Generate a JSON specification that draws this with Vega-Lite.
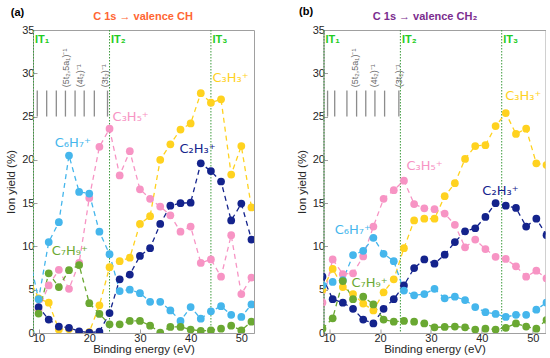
{
  "$schema": "https://vega.github.io/schema/vega-lite/v6.json",
  "background": "white",
  "padding": {"left": 5, "top": 5, "right": 0, "bottom": 0},
  "bounds": "flush",
  "spacing": 69.5,
  "config": {
    "view": {"stroke": "#a0a0a0", "strokeWidth": 1},
    "axis": {"grid": false, "domainColor": "#a0a0a0", "tickColor": "#a0a0a0", "tickSize": -4, "labelFont": "Liberation Sans", "labelFontSize": 11, "labelColor": "#262626", "titleFont": "Liberation Sans", "titleFontSize": 11.5, "titleFontWeight": "normal", "titleColor": "#262626"},
    "axisX": {"labelPadding": 3, "titlePadding": 0},
    "axisY": {"labelPadding": 3, "titlePadding": 5},
    "text": {"font": "DejaVu Sans"}
  },
  "datasets": {
    "sa": [
      {"ion":"C3H3","x":8,"y":6.5},{"ion":"C3H3","x":10,"y":4.0},{"ion":"C3H3","x":12,"y":3.5},{"ion":"C3H3","x":14,"y":0.4},{"ion":"C3H3","x":16,"y":0.45},{"ion":"C3H3","x":18,"y":0.05},{"ion":"C3H3","x":20,"y":0.1},{"ion":"C3H3","x":22,"y":3.2},{"ion":"C3H3","x":24,"y":7.6},{"ion":"C3H3","x":26,"y":8.3},{"ion":"C3H3","x":28,"y":8.7},{"ion":"C3H3","x":30,"y":12.6},{"ion":"C3H3","x":32,"y":13.5},{"ion":"C3H3","x":34,"y":20.0},{"ion":"C3H3","x":36,"y":21.8},{"ion":"C3H3","x":38,"y":23.5},{"ion":"C3H3","x":40,"y":24.2},{"ion":"C3H3","x":42,"y":27.7},{"ion":"C3H3","x":44,"y":26.6},{"ion":"C3H3","x":46,"y":27.0},{"ion":"C3H3","x":48,"y":18.3},{"ion":"C3H3","x":50,"y":21.6},{"ion":"C3H3","x":52,"y":14.5},
      {"ion":"C3H5","x":8,"y":3.0},{"ion":"C3H5","x":10,"y":2.7},{"ion":"C3H5","x":12,"y":5.5},{"ion":"C3H5","x":14,"y":7.3},{"ion":"C3H5","x":16,"y":5.1},{"ion":"C3H5","x":18,"y":8.1},{"ion":"C3H5","x":20,"y":15.6},{"ion":"C3H5","x":22,"y":21.5},{"ion":"C3H5","x":24,"y":23.6},{"ion":"C3H5","x":26,"y":18.2},{"ion":"C3H5","x":28,"y":21.0},{"ion":"C3H5","x":30,"y":16.6},{"ion":"C3H5","x":32,"y":15.5},{"ion":"C3H5","x":34,"y":14.6},{"ion":"C3H5","x":36,"y":13.6},{"ion":"C3H5","x":38,"y":11.7},{"ion":"C3H5","x":40,"y":12.3},{"ion":"C3H5","x":42,"y":8.1},{"ion":"C3H5","x":44,"y":8.5},{"ion":"C3H5","x":46,"y":6.5},{"ion":"C3H5","x":48,"y":11.3},{"ion":"C3H5","x":50,"y":4.5},{"ion":"C3H5","x":52,"y":6.4},
      {"ion":"C2H3","x":8,"y":3.5},{"ion":"C2H3","x":10,"y":3.0},{"ion":"C2H3","x":12,"y":1.55},{"ion":"C2H3","x":14,"y":0.75},{"ion":"C2H3","x":16,"y":0.6},{"ion":"C2H3","x":18,"y":0.2},{"ion":"C2H3","x":20,"y":0.05},{"ion":"C2H3","x":22,"y":0.15},{"ion":"C2H3","x":24,"y":2.3},{"ion":"C2H3","x":26,"y":6.2},{"ion":"C2H3","x":28,"y":6.75},{"ion":"C2H3","x":30,"y":8.9},{"ion":"C2H3","x":32,"y":9.8},{"ion":"C2H3","x":34,"y":12.6},{"ion":"C2H3","x":36,"y":14.7},{"ion":"C2H3","x":38,"y":15.0},{"ion":"C2H3","x":40,"y":15.05},{"ion":"C2H3","x":42,"y":19.6},{"ion":"C2H3","x":44,"y":18.7},{"ion":"C2H3","x":46,"y":17.5},{"ion":"C2H3","x":48,"y":13.0},{"ion":"C2H3","x":50,"y":14.95},{"ion":"C2H3","x":52,"y":10.8},
      {"ion":"C6H7","x":8,"y":9.2},{"ion":"C6H7","x":10,"y":3.9},{"ion":"C6H7","x":12,"y":10.5},{"ion":"C6H7","x":14,"y":12.8},{"ion":"C6H7","x":16,"y":20.5},{"ion":"C6H7","x":18,"y":16.3},{"ion":"C6H7","x":20,"y":16.1},{"ion":"C6H7","x":22,"y":11.7},{"ion":"C6H7","x":24,"y":9.1},{"ion":"C6H7","x":26,"y":4.85},{"ion":"C6H7","x":28,"y":5.0},{"ion":"C6H7","x":30,"y":4.6},{"ion":"C6H7","x":32,"y":3.6},{"ion":"C6H7","x":34,"y":3.6},{"ion":"C6H7","x":36,"y":2.6},{"ion":"C6H7","x":38,"y":1.4},{"ion":"C6H7","x":40,"y":3.0},{"ion":"C6H7","x":42,"y":1.65},{"ion":"C6H7","x":44,"y":2.5},{"ion":"C6H7","x":46,"y":3.1},{"ion":"C6H7","x":48,"y":2.1},{"ion":"C6H7","x":50,"y":1.85},{"ion":"C6H7","x":52,"y":3.3},
      {"ion":"C7H9","x":8,"y":3.4},{"ion":"C7H9","x":10,"y":2.25},{"ion":"C7H9","x":12,"y":6.9},{"ion":"C7H9","x":14,"y":5.3},{"ion":"C7H9","x":16,"y":7.25},{"ion":"C7H9","x":18,"y":7.85},{"ion":"C7H9","x":20,"y":3.45},{"ion":"C7H9","x":22,"y":2.2},{"ion":"C7H9","x":24,"y":1.0},{"ion":"C7H9","x":26,"y":1.0},{"ion":"C7H9","x":28,"y":1.4},{"ion":"C7H9","x":30,"y":1.4},{"ion":"C7H9","x":32,"y":0.85},{"ion":"C7H9","x":34,"y":0.05},{"ion":"C7H9","x":36,"y":0.7},{"ion":"C7H9","x":38,"y":0.7},{"ion":"C7H9","x":40,"y":0.4},{"ion":"C7H9","x":42,"y":0.25},{"ion":"C7H9","x":44,"y":0.3},{"ion":"C7H9","x":46,"y":0.5},{"ion":"C7H9","x":48,"y":0.85},{"ion":"C7H9","x":50,"y":0.3},{"ion":"C7H9","x":52,"y":1.3}
    ],
    "sb": [
      {"ion":"C3H3","x":8.7,"y":5.0},{"ion":"C3H3","x":10.7,"y":7.4},{"ion":"C3H3","x":12.7,"y":5.3},{"ion":"C3H3","x":14.7,"y":4.5},{"ion":"C3H3","x":16.7,"y":3.4},{"ion":"C3H3","x":18.7,"y":2.6},{"ion":"C3H3","x":20.7,"y":4.7},{"ion":"C3H3","x":22.7,"y":6.2},{"ion":"C3H3","x":24.7,"y":9.8},{"ion":"C3H3","x":26.7,"y":13.0},{"ion":"C3H3","x":28.7,"y":13.2},{"ion":"C3H3","x":30.7,"y":13.2},{"ion":"C3H3","x":32.7,"y":15.8},{"ion":"C3H3","x":34.7,"y":17.3},{"ion":"C3H3","x":36.7,"y":20.1},{"ion":"C3H3","x":38.7,"y":21.6},{"ion":"C3H3","x":40.7,"y":21.7},{"ion":"C3H3","x":42.7,"y":23.9},{"ion":"C3H3","x":44.7,"y":25.4},{"ion":"C3H3","x":46.7,"y":23.0},{"ion":"C3H3","x":48.7,"y":23.6},{"ion":"C3H3","x":50.7,"y":19.6},{"ion":"C3H3","x":52.7,"y":19.4},
      {"ion":"C3H5","x":8.7,"y":3.5},{"ion":"C3H5","x":10.7,"y":8.5},{"ion":"C3H5","x":12.7,"y":6.8},{"ion":"C3H5","x":14.7,"y":6.9},{"ion":"C3H5","x":16.7,"y":8.85},{"ion":"C3H5","x":18.7,"y":12.3},{"ion":"C3H5","x":20.7,"y":15.5},{"ion":"C3H5","x":22.7,"y":16.5},{"ion":"C3H5","x":24.7,"y":17.6},{"ion":"C3H5","x":26.7,"y":14.9},{"ion":"C3H5","x":28.7,"y":14.4},{"ion":"C3H5","x":30.7,"y":14.3},{"ion":"C3H5","x":32.7,"y":13.8},{"ion":"C3H5","x":34.7,"y":12.5},{"ion":"C3H5","x":36.7,"y":9.9},{"ion":"C3H5","x":38.7,"y":10.8},{"ion":"C3H5","x":40.7,"y":9.7},{"ion":"C3H5","x":42.7,"y":8.8},{"ion":"C3H5","x":44.7,"y":8.55},{"ion":"C3H5","x":46.7,"y":7.7},{"ion":"C3H5","x":48.7,"y":6.5},{"ion":"C3H5","x":50.7,"y":7.2},{"ion":"C3H5","x":52.7,"y":6.3},
      {"ion":"C2H3","x":8.7,"y":6.5},{"ion":"C2H3","x":10.7,"y":3.9},{"ion":"C2H3","x":12.7,"y":3.5},{"ion":"C2H3","x":14.7,"y":2.8},{"ion":"C2H3","x":16.7,"y":1.55},{"ion":"C2H3","x":18.7,"y":1.1},{"ion":"C2H3","x":20.7,"y":2.8},{"ion":"C2H3","x":22.7,"y":3.9},{"ion":"C2H3","x":24.7,"y":5.5},{"ion":"C2H3","x":26.7,"y":7.5},{"ion":"C2H3","x":28.7,"y":8.5},{"ion":"C2H3","x":30.7,"y":8.0},{"ion":"C2H3","x":32.7,"y":9.05},{"ion":"C2H3","x":34.7,"y":10.5},{"ion":"C2H3","x":36.7,"y":11.75},{"ion":"C2H3","x":38.7,"y":12.1},{"ion":"C2H3","x":40.7,"y":13.4},{"ion":"C2H3","x":42.7,"y":15.0},{"ion":"C2H3","x":44.7,"y":14.7},{"ion":"C2H3","x":46.7,"y":14.45},{"ion":"C2H3","x":48.7,"y":12.3},{"ion":"C2H3","x":50.7,"y":13.2},{"ion":"C2H3","x":52.7,"y":11.3},
      {"ion":"C6H7","x":8.7,"y":5.5},{"ion":"C6H7","x":10.7,"y":5.9},{"ion":"C6H7","x":12.7,"y":6.1},{"ion":"C6H7","x":14.7,"y":9.0},{"ion":"C6H7","x":16.7,"y":9.5},{"ion":"C6H7","x":18.7,"y":11.0},{"ion":"C6H7","x":20.7,"y":9.15},{"ion":"C6H7","x":22.7,"y":8.3},{"ion":"C6H7","x":24.7,"y":4.9},{"ion":"C6H7","x":26.7,"y":4.35},{"ion":"C6H7","x":28.7,"y":4.5},{"ion":"C6H7","x":30.7,"y":5.1},{"ion":"C6H7","x":32.7,"y":4.0},{"ion":"C6H7","x":34.7,"y":4.2},{"ion":"C6H7","x":36.7,"y":3.8},{"ion":"C6H7","x":38.7,"y":3.0},{"ion":"C6H7","x":40.7,"y":2.4},{"ion":"C6H7","x":42.7,"y":2.2},{"ion":"C6H7","x":44.7,"y":1.85},{"ion":"C6H7","x":46.7,"y":2.1},{"ion":"C6H7","x":48.7,"y":2.1},{"ion":"C6H7","x":50.7,"y":2.7},{"ion":"C6H7","x":52.7,"y":3.5},
      {"ion":"C7H9","x":8.7,"y":0.5},{"ion":"C7H9","x":10.7,"y":1.7},{"ion":"C7H9","x":12.7,"y":6.0},{"ion":"C7H9","x":14.7,"y":3.9},{"ion":"C7H9","x":16.7,"y":4.2},{"ion":"C7H9","x":18.7,"y":3.3},{"ion":"C7H9","x":20.7,"y":1.55},{"ion":"C7H9","x":22.7,"y":1.3},{"ion":"C7H9","x":24.7,"y":1.4},{"ion":"C7H9","x":26.7,"y":1.3},{"ion":"C7H9","x":28.7,"y":1.1},{"ion":"C7H9","x":30.7,"y":0.65},{"ion":"C7H9","x":32.7,"y":0.7},{"ion":"C7H9","x":34.7,"y":0.75},{"ion":"C7H9","x":36.7,"y":0.65},{"ion":"C7H9","x":38.7,"y":0.4},{"ion":"C7H9","x":40.7,"y":0.5},{"ion":"C7H9","x":42.7,"y":0.4},{"ion":"C7H9","x":44.7,"y":0.6},{"ion":"C7H9","x":46.7,"y":1.1},{"ion":"C7H9","x":48.7,"y":0.75},{"ion":"C7H9","x":50.7,"y":0.5},{"ion":"C7H9","x":52.7,"y":1.5}
    ]
  },
  "hconcat": [
    {
      "width": 221, "height": 303,
      "layer": [
        {"data": {"values": [{"x": 9}, {"x": 24}, {"x": 44}]},
         "mark": {"type": "rule", "strokeDash": [1.5, 1.5], "color": "#3c9a3c", "strokeWidth": 1},
         "encoding": {"x": {"field": "x", "type": "quantitative", "scale": {"domain": [8.9, 52.5], "nice": false, "zero": false}, "axis": {"values": [10, 20, 30, 40, 50]}, "title": "Binding energy (eV)"}}},
        {"data": {"values": [{"x": 9.3, "y": 33.9, "t": "IT₁"}, {"x": 24.3, "y": 33.9, "t": "IT₂"}, {"x": 44.3, "y": 33.9, "t": "IT₃"}]},
         "mark": {"type": "text", "align": "left", "baseline": "middle", "color": "#22cc22", "fontSize": 11, "fontWeight": "bold", "font": "Liberation Sans"},
         "encoding": {"x": {"field": "x", "type": "quantitative", "scale": {"domain": [8.9, 52.5], "nice": false, "zero": false}, "axis": {"values": [10, 20, 30, 40, 50]}, "title": "Binding energy (eV)"},
                      "y": {"field": "y", "type": "quantitative", "scale": {"domain": [0, 35], "nice": false}, "axis": {"values": [0, 5, 10, 15, 20, 25, 30, 35]}, "title": "Ion yield (%)"},
                      "text": {"field": "t"}}},
        {"data": {"values": [{"x": 9.74, "y": 25, "y2": 28}, {"x": 11.6, "y": 25, "y2": 28}, {"x": 13.5, "y": 25, "y2": 28}, {"x": 15.3, "y": 25, "y2": 28}, {"x": 17.2, "y": 25, "y2": 28}, {"x": 19.0, "y": 25, "y2": 28}, {"x": 21.0, "y": 25, "y2": 28}, {"x": 23.6, "y": 25, "y2": 28}]},
         "mark": {"type": "rule", "color": "#8c8c8c", "strokeWidth": 1.3},
         "encoding": {"x": {"field": "x", "type": "quantitative", "scale": {"domain": [8.9, 52.5], "nice": false, "zero": false}, "axis": {"values": [10, 20, 30, 40, 50]}, "title": "Binding energy (eV)"},
                      "y": {"field": "y", "type": "quantitative", "scale": {"domain": [0, 35], "nice": false}, "axis": {"values": [0, 5, 10, 15, 20, 25, 30, 35]}, "title": "Ion yield (%)"},
                      "y2": {"field": "y2"}}},
        {"data": {"values": [{"x": 15.45, "y": 28.4, "t": "(5t₂,5a₁)⁻¹"}, {"x": 18.1, "y": 28.4, "t": "(4t₂)⁻¹"}, {"x": 23.2, "y": 28.4, "t": "(3t₂)⁻¹"}]},
         "mark": {"type": "text", "angle": 270, "align": "left", "baseline": "middle", "color": "#6a6a6a", "fontSize": 9, "font": "Liberation Sans"},
         "encoding": {"x": {"field": "x", "type": "quantitative", "scale": {"domain": [8.9, 52.5], "nice": false, "zero": false}, "axis": {"values": [10, 20, 30, 40, 50]}, "title": "Binding energy (eV)"},
                      "y": {"field": "y", "type": "quantitative", "scale": {"domain": [0, 35], "nice": false}, "axis": {"values": [0, 5, 10, 15, 20, 25, 30, 35]}, "title": "Ion yield (%)"},
                      "text": {"field": "t"}}},
        {"data": {"name": "sa"},
         "mark": {"type": "line", "strokeDash": [5, 4], "strokeWidth": 1.3, "clip": true},
         "encoding": {"x": {"field": "x", "type": "quantitative", "scale": {"domain": [8.9, 52.5], "nice": false, "zero": false}, "axis": {"values": [10, 20, 30, 40, 50]}, "title": "Binding energy (eV)"},
                      "y": {"field": "y", "type": "quantitative", "scale": {"domain": [0, 35], "nice": false}, "axis": {"values": [0, 5, 10, 15, 20, 25, 30, 35]}, "title": "Ion yield (%)"},
                      "color": {"field": "ion", "type": "nominal", "scale": {"domain": ["C3H3", "C3H5", "C2H3", "C6H7", "C7H9"], "range": ["#ffd21f", "#f794c4", "#14238c", "#45b6ec", "#6aa832"]}, "legend": null}}},
        {"data": {"name": "sa"},
         "mark": {"type": "circle", "size": 60, "opacity": 1, "clip": true},
         "encoding": {"x": {"field": "x", "type": "quantitative", "scale": {"domain": [8.9, 52.5], "nice": false, "zero": false}, "axis": {"values": [10, 20, 30, 40, 50]}, "title": "Binding energy (eV)"},
                      "y": {"field": "y", "type": "quantitative", "scale": {"domain": [0, 35], "nice": false}, "axis": {"values": [0, 5, 10, 15, 20, 25, 30, 35]}, "title": "Ion yield (%)"},
                      "color": {"field": "ion", "type": "nominal", "legend": null}}},
        {"data": {"values": [{"ion": "C3H3", "x": 44.3, "y": 29.4, "t": "C₃H₃⁺"}, {"ion": "C3H5", "x": 24.6, "y": 24.9, "t": "C₃H₅⁺"}, {"ion": "C6H7", "x": 13.2, "y": 22.0, "t": "C₆H₇⁺"}, {"ion": "C2H3", "x": 37.8, "y": 21.2, "t": "C₂H₃⁺"}, {"ion": "C7H9", "x": 12.6, "y": 9.5, "t": "C₇H₉⁺"}]},
         "mark": {"type": "text", "align": "left", "baseline": "middle", "fontSize": 13},
         "encoding": {"x": {"field": "x", "type": "quantitative", "scale": {"domain": [8.9, 52.5], "nice": false, "zero": false}, "axis": {"values": [10, 20, 30, 40, 50]}, "title": "Binding energy (eV)"},
                      "y": {"field": "y", "type": "quantitative", "scale": {"domain": [0, 35], "nice": false}, "axis": {"values": [0, 5, 10, 15, 20, 25, 30, 35]}, "title": "Ion yield (%)"},
                      "color": {"field": "ion", "type": "nominal", "legend": null},
                      "text": {"field": "t"}}},
        {"data": {"values": [{"x": 5.84, "y": 36.95, "t": "(a)"}]},
         "mark": {"type": "text", "align": "center", "baseline": "middle", "fontSize": 11, "fontWeight": "bold", "font": "Liberation Sans", "color": "#000000", "clip": false},
         "encoding": {"x": {"field": "x", "type": "quantitative", "scale": {"domain": [8.9, 52.5], "nice": false, "zero": false}, "axis": {"values": [10, 20, 30, 40, 50]}, "title": "Binding energy (eV)"},
                      "y": {"field": "y", "type": "quantitative", "scale": {"domain": [0, 35], "nice": false}, "axis": {"values": [0, 5, 10, 15, 20, 25, 30, 35]}, "title": "Ion yield (%)"},
                      "text": {"field": "t"}}},
        {"data": {"values": [{"x": 30.6, "y": 36.5, "t": "C 1s → valence CH"}]},
         "mark": {"type": "text", "align": "center", "baseline": "middle", "fontSize": 11, "fontWeight": "bold", "font": "Liberation Sans", "color": "#ff6633", "clip": false},
         "encoding": {"x": {"field": "x", "type": "quantitative", "scale": {"domain": [8.9, 52.5], "nice": false, "zero": false}, "axis": {"values": [10, 20, 30, 40, 50]}, "title": "Binding energy (eV)"},
                      "y": {"field": "y", "type": "quantitative", "scale": {"domain": [0, 35], "nice": false}, "axis": {"values": [0, 5, 10, 15, 20, 25, 30, 35]}, "title": "Ion yield (%)"},
                      "text": {"field": "t"}}}
      ]
    },
    {
      "width": 222, "height": 303,
      "layer": [
        {"data": {"values": [{"x": 9}, {"x": 24}, {"x": 43.9}]},
         "mark": {"type": "rule", "strokeDash": [1.5, 1.5], "color": "#3c9a3c", "strokeWidth": 1},
         "encoding": {"x": {"field": "x", "type": "quantitative", "scale": {"domain": [8.9, 52.5], "nice": false, "zero": false}, "axis": {"values": [10, 20, 30, 40, 50]}, "title": "Binding energy (eV)"}}},
        {"data": {"values": [{"x": 9.3, "y": 33.9, "t": "IT₁"}, {"x": 24.3, "y": 33.9, "t": "IT₂"}, {"x": 44.2, "y": 33.9, "t": "IT₃"}]},
         "mark": {"type": "text", "align": "left", "baseline": "middle", "color": "#22cc22", "fontSize": 11, "fontWeight": "bold", "font": "Liberation Sans"},
         "encoding": {"x": {"field": "x", "type": "quantitative", "scale": {"domain": [8.9, 52.5], "nice": false, "zero": false}, "axis": {"values": [10, 20, 30, 40, 50]}, "title": "Binding energy (eV)"},
                      "y": {"field": "y", "type": "quantitative", "scale": {"domain": [0, 35], "nice": false}, "axis": {"values": [0, 5, 10, 15, 20, 25, 30, 35]}, "title": "Ion yield (%)"},
                      "text": {"field": "t"}}},
        {"data": {"values": [{"x": 9.7, "y": 25, "y2": 28}, {"x": 11.1, "y": 25, "y2": 28}, {"x": 13.5, "y": 25, "y2": 28}, {"x": 15.4, "y": 25, "y2": 28}, {"x": 17.2, "y": 25, "y2": 28}, {"x": 19.0, "y": 25, "y2": 28}, {"x": 20.9, "y": 25, "y2": 28}, {"x": 23.7, "y": 25, "y2": 28}]},
         "mark": {"type": "rule", "color": "#8c8c8c", "strokeWidth": 1.3},
         "encoding": {"x": {"field": "x", "type": "quantitative", "scale": {"domain": [8.9, 52.5], "nice": false, "zero": false}, "axis": {"values": [10, 20, 30, 40, 50]}, "title": "Binding energy (eV)"},
                      "y": {"field": "y", "type": "quantitative", "scale": {"domain": [0, 35], "nice": false}, "axis": {"values": [0, 5, 10, 15, 20, 25, 30, 35]}, "title": "Ion yield (%)"},
                      "y2": {"field": "y2"}}},
        {"data": {"values": [{"x": 15.0, "y": 28.4, "t": "(5t₂,5a₁)⁻¹"}, {"x": 18.8, "y": 28.4, "t": "(4t₂)⁻¹"}, {"x": 23.8, "y": 28.4, "t": "(3t₂)⁻¹"}]},
         "mark": {"type": "text", "angle": 270, "align": "left", "baseline": "middle", "color": "#6a6a6a", "fontSize": 9, "font": "Liberation Sans"},
         "encoding": {"x": {"field": "x", "type": "quantitative", "scale": {"domain": [8.9, 52.5], "nice": false, "zero": false}, "axis": {"values": [10, 20, 30, 40, 50]}, "title": "Binding energy (eV)"},
                      "y": {"field": "y", "type": "quantitative", "scale": {"domain": [0, 35], "nice": false}, "axis": {"values": [0, 5, 10, 15, 20, 25, 30, 35]}, "title": "Ion yield (%)"},
                      "text": {"field": "t"}}},
        {"data": {"name": "sb"},
         "mark": {"type": "line", "strokeDash": [5, 4], "strokeWidth": 1.3, "clip": true},
         "encoding": {"x": {"field": "x", "type": "quantitative", "scale": {"domain": [8.9, 52.5], "nice": false, "zero": false}, "axis": {"values": [10, 20, 30, 40, 50]}, "title": "Binding energy (eV)"},
                      "y": {"field": "y", "type": "quantitative", "scale": {"domain": [0, 35], "nice": false}, "axis": {"values": [0, 5, 10, 15, 20, 25, 30, 35]}, "title": "Ion yield (%)"},
                      "color": {"field": "ion", "type": "nominal", "scale": {"domain": ["C3H3", "C3H5", "C2H3", "C6H7", "C7H9"], "range": ["#ffd21f", "#f794c4", "#14238c", "#45b6ec", "#6aa832"]}, "legend": null}}},
        {"data": {"name": "sb"},
         "mark": {"type": "circle", "size": 60, "opacity": 1, "clip": true},
         "encoding": {"x": {"field": "x", "type": "quantitative", "scale": {"domain": [8.9, 52.5], "nice": false, "zero": false}, "axis": {"values": [10, 20, 30, 40, 50]}, "title": "Binding energy (eV)"},
                      "y": {"field": "y", "type": "quantitative", "scale": {"domain": [0, 35], "nice": false}, "axis": {"values": [0, 5, 10, 15, 20, 25, 30, 35]}, "title": "Ion yield (%)"},
                      "color": {"field": "ion", "type": "nominal", "legend": null}}},
        {"data": {"values": [{"ion": "C3H3", "x": 44.6, "y": 27.4, "t": "C₃H₃⁺"}, {"ion": "C3H5", "x": 25.2, "y": 19.3, "t": "C₃H₅⁺"}, {"ion": "C2H3", "x": 40.1, "y": 16.4, "t": "C₂H₃⁺"}, {"ion": "C6H7", "x": 11.1, "y": 11.9, "t": "C₆H₇⁺"}, {"ion": "C7H9", "x": 14.4, "y": 5.8, "t": "C₇H₉⁺"}]},
         "mark": {"type": "text", "align": "left", "baseline": "middle", "fontSize": 13},
         "encoding": {"x": {"field": "x", "type": "quantitative", "scale": {"domain": [8.9, 52.5], "nice": false, "zero": false}, "axis": {"values": [10, 20, 30, 40, 50]}, "title": "Binding energy (eV)"},
                      "y": {"field": "y", "type": "quantitative", "scale": {"domain": [0, 35], "nice": false}, "axis": {"values": [0, 5, 10, 15, 20, 25, 30, 35]}, "title": "Ion yield (%)"},
                      "color": {"field": "ion", "type": "nominal", "legend": null},
                      "text": {"field": "t"}}},
        {"data": {"values": [{"x": 5.47, "y": 37.1, "t": "(b)"}]},
         "mark": {"type": "text", "align": "center", "baseline": "middle", "fontSize": 11, "fontWeight": "bold", "font": "Liberation Sans", "color": "#000000", "clip": false},
         "encoding": {"x": {"field": "x", "type": "quantitative", "scale": {"domain": [8.9, 52.5], "nice": false, "zero": false}, "axis": {"values": [10, 20, 30, 40, 50]}, "title": "Binding energy (eV)"},
                      "y": {"field": "y", "type": "quantitative", "scale": {"domain": [0, 35], "nice": false}, "axis": {"values": [0, 5, 10, 15, 20, 25, 30, 35]}, "title": "Ion yield (%)"},
                      "text": {"field": "t"}}},
        {"data": {"values": [{"x": 28.84, "y": 36.5, "t": "C 1s → valence CH₂"}]},
         "mark": {"type": "text", "align": "center", "baseline": "middle", "fontSize": 11, "fontWeight": "bold", "font": "Liberation Sans", "color": "#7b2d8e", "clip": false},
         "encoding": {"x": {"field": "x", "type": "quantitative", "scale": {"domain": [8.9, 52.5], "nice": false, "zero": false}, "axis": {"values": [10, 20, 30, 40, 50]}, "title": "Binding energy (eV)"},
                      "y": {"field": "y", "type": "quantitative", "scale": {"domain": [0, 35], "nice": false}, "axis": {"values": [0, 5, 10, 15, 20, 25, 30, 35]}, "title": "Ion yield (%)"},
                      "text": {"field": "t"}}}
      ]
    }
  ]
}
